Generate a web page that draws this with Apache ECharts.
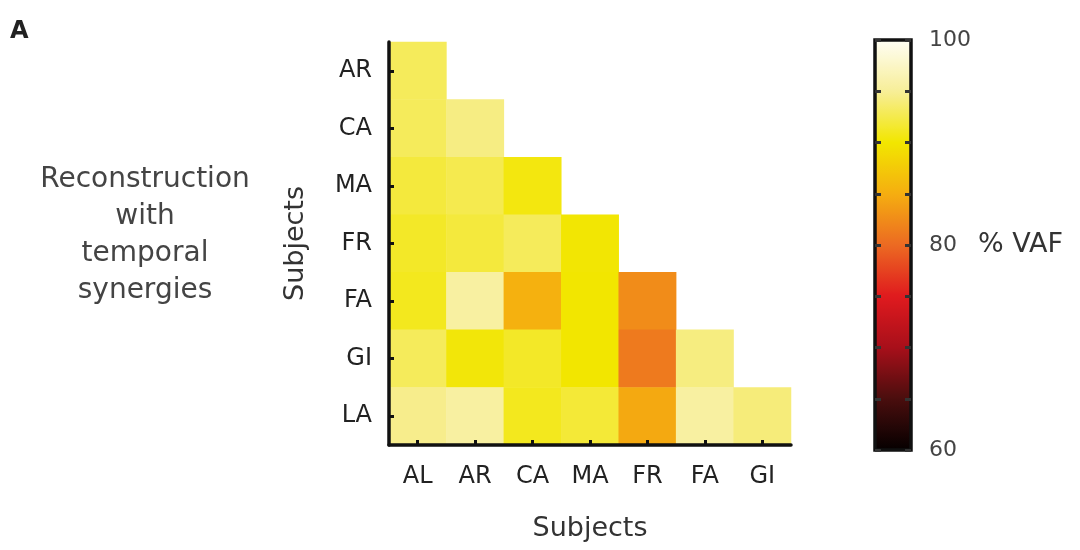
<!DOCTYPE html>
<html>
<head>
<meta charset="utf-8">
<script src="https://cdn.jsdelivr.net/npm/echarts@6/dist/echarts.min.js"></script>
<style>
  html, body { margin: 0; padding: 0; background: #fff; }
  #chartHeat { width: 1080px; height: 550px; }
</style>
</head>
<body>
<div id="chartHeat"></div>
<script>
  // subjects on each axis
  const colSubjects = ['AL', 'AR', 'CA', 'MA', 'FR', 'FA', 'GI'];
  const rowSubjects = ['AR', 'CA', 'MA', 'FR', 'FA', 'GI', 'LA'];
  // % VAF, one row per subject (lower triangle)
  const vafAR = [93];
  const vafCA = [93, 94.3];
  const vafMA = [92, 92.6, 90.5];
  const vafFR = [91.3, 92, 93, 90.1];
  const vafFA = [91, 95.5, 85.3, 90, 82.5];
  const vafGI = [93, 90.3, 91.3, 90, 81.2, 94.2];
  const vafLA = [94.6, 95.5, 91, 91.8, 84.6, 95.5, 94];
  const vafRows = [vafAR, vafCA, vafMA, vafFR, vafFA, vafGI, vafLA];
  const scaleMin = 60;
  const scaleMax = 100;

  const heatData = [];
  vafRows.forEach((row, r) => {
    row.forEach((v, c) => heatData.push([c, r, v]));
  });

  const font = 'DejaVu Sans';
  const myChart = echarts.init(document.getElementById('chartHeat'));
  const option = {
    backgroundColor: '#fff',
    animation: false,
    textStyle: { fontFamily: font },
    grid: [
      { left: 389, top: 42, width: 402, height: 403 },
      { left: 875, top: 40, width: 36, height: 410, show: true, z: 10,
        backgroundColor: 'transparent', borderColor: '#111', borderWidth: 3.5 }
    ],
    xAxis: [{
      type: 'category',
      data: colSubjects,
      z: 10,
      name: 'Subjects',
      nameLocation: 'middle',
      nameGap: 70,
      nameTextStyle: { fontSize: 27, color: '#333' },
      axisLine: { show: true, lineStyle: { color: '#111', width: 3.5 } },
      axisTick: { show: true, inside: true, alignWithLabel: true, length: 5, lineStyle: { color: '#111', width: 3 } },
      axisLabel: { fontSize: 24, color: '#222', margin: 20 },
      splitLine: { show: false }
    }, {
      gridIndex: 1, type: 'category', data: [''], show: false
    }],
    yAxis: [{
      type: 'category',
      data: rowSubjects,
      inverse: true,
      z: 10,
      name: 'Subjects',
      nameLocation: 'middle',
      nameGap: 80,
      nameRotate: 90,
      nameTextStyle: { fontSize: 27, color: '#333' },
      axisLine: { show: true, lineStyle: { color: '#111', width: 3.5 } },
      axisTick: { show: true, inside: true, alignWithLabel: true, length: 5, lineStyle: { color: '#111', width: 3 } },
      axisLabel: { fontSize: 24, color: '#222', margin: 17 },
      splitLine: { show: false }
    }, {
      gridIndex: 1, type: 'value', min: scaleMin, max: scaleMax, interval: 5,
      position: 'right',
      z: 12,
      axisLine: { show: false },
      axisTick: { show: true, inside: true, length: 6, lineStyle: { color: '#333', width: 3 } },
      axisLabel: {
        fontSize: 22, color: '#444', margin: 18,
        formatter: v => (v % 20 === 0 ? String(v) : '')
      },
      splitLine: { show: false }
    }, {
      gridIndex: 1, type: 'value', min: scaleMin, max: scaleMax, interval: 5,
      position: 'left',
      z: 12,
      axisLine: { show: false },
      axisTick: { show: true, inside: true, length: 6, lineStyle: { color: '#333', width: 3 } },
      axisLabel: { show: false },
      splitLine: { show: false }
    }],
    visualMap: {
      type: 'continuous',
      min: scaleMin,
      max: scaleMax,
      seriesIndex: 0,
      calculable: false,
      text: null,
      showLabel: false,
      left: 875,
      top: 40,
      itemWidth: 36,
      itemHeight: 410,
      padding: 0,
      z: 4,
      inRange: {
        color: ['#050000', '#4a0e0e', '#a80f1a', '#e01a1e', '#ec6a22',
                '#f5ae10', '#f2e600', '#f7ee98', '#fffef4']
      }
    },
    graphic: [
      { type: 'text', left: 10, top: 20,
        style: { text: 'A', fontSize: 24, fontWeight: 'bold', fill: '#222', fontFamily: font } },
      { type: 'text', x: 145, y: 235,
        style: { text: 'Reconstruction\nwith\ntemporal\nsynergies', fontSize: 28, lineHeight: 37,
                 align: 'center', verticalAlign: 'middle', fill: '#444', fontFamily: font } },
      { type: 'text', x: 978, y: 245,
        style: { text: '% VAF', fontSize: 27, verticalAlign: 'middle', fill: '#333', fontFamily: font } }
    ],
    series: [{
      name: 'VAF',
      type: 'heatmap',
      xAxisIndex: 0,
      yAxisIndex: 0,
      data: heatData,
      itemStyle: { borderWidth: 0 },
      emphasis: { disabled: true }
    }]
  };
  myChart.setOption(option);
</script>
</body>
</html>
